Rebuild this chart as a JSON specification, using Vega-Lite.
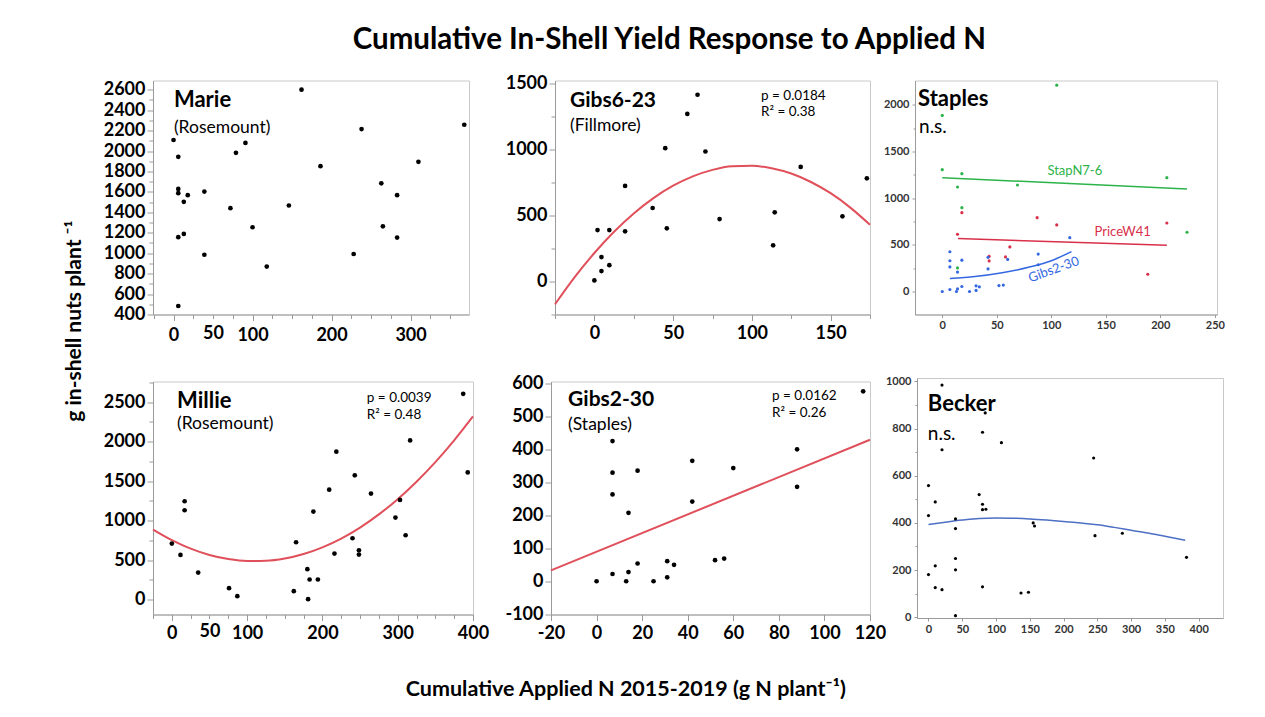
{
  "$schema": "https://vega.github.io/schema/vega-lite/v6.json",
  "background": "white",
  "padding": {"left": 63, "top": 24.5, "right": 5, "bottom": 5},
  "config": {
    "font": "Lato",
    "numberFormat": "d",
    "view": {"stroke": "#c9c9c9", "strokeWidth": 1},
    "axis": {"grid": false, "labelFont": "Lato", "labelFontWeight": "bold", "labelColor": "#000", "domainColor": "#9a9a9a", "tickColor": "#9a9a9a", "labelFlush": false, "labelOverlap": false}
  },
  "datasets": {
    "marie": [
      {"n":0,"yield":2108},{"n":6,"yield":1943},{"n":6,"yield":1629},{"n":6,"yield":1587},{"n":18,"yield":1568},{"n":13,"yield":1503},{"n":39,"yield":1603},{"n":6,"yield":1157},{"n":13,"yield":1189},{"n":39,"yield":985},{"n":6,"yield":483},{"n":72,"yield":1441},{"n":79,"yield":1982},{"n":91,"yield":2079},{"n":100,"yield":1254},{"n":118,"yield":869},{"n":146,"yield":1467},{"n":162,"yield":2600},{"n":186,"yield":1852},{"n":228,"yield":992},{"n":238,"yield":2215},{"n":263,"yield":1684},{"n":265,"yield":1263},{"n":283,"yield":1568},{"n":283,"yield":1153},{"n":310,"yield":1894},{"n":368,"yield":2257}
    ],
    "gibs623": [
      {"n":0,"yield":5},{"n":2,"yield":387},{"n":4.5,"yield":182},{"n":4.5,"yield":76},{"n":9.5,"yield":121},{"n":9.5,"yield":387},{"n":19.5,"yield":721},{"n":19.5,"yield":377},{"n":37,"yield":554},{"n":45,"yield":1007},{"n":46,"yield":400},{"n":59,"yield":1267},{"n":65.5,"yield":1412},{"n":70.5,"yield":982},{"n":79.5,"yield":470},{"n":113.5,"yield":271},{"n":114.5,"yield":521},{"n":131,"yield":865},{"n":157.5,"yield":491},{"n":173,"yield":779}
    ],
    "gibs623fit": [
      {"n":-25,"yield":-176},{"n":-12.5,"yield":30},{"n":0,"yield":213},{"n":12.5,"yield":374},{"n":25,"yield":513},{"n":37.5,"yield":629},{"n":50,"yield":723},{"n":62.5,"yield":794},{"n":75,"yield":843},{"n":87.5,"yield":870},{"n":100,"yield":874},{"n":112.5,"yield":855},{"n":125,"yield":815},{"n":137.5,"yield":751},{"n":150,"yield":666},{"n":162.5,"yield":557},{"n":175,"yield":427}
    ],
    "staples": [
      {"series":"StapN7-6","n":0,"yield":1886},{"series":"StapN7-6","n":0,"yield":1305},{"series":"StapN7-6","n":18,"yield":1262},{"series":"StapN7-6","n":14,"yield":1119},{"series":"StapN7-6","n":69,"yield":1141},{"series":"StapN7-6","n":18,"yield":898},{"series":"StapN7-6","n":105,"yield":2210},{"series":"StapN7-6","n":206,"yield":1219},{"series":"StapN7-6","n":224.5,"yield":635},{"series":"StapN7-6","n":14,"yield":253},
      {"series":"PriceW41","n":18,"yield":845},{"series":"PriceW41","n":14,"yield":613},{"series":"PriceW41","n":87,"yield":791},{"series":"PriceW41","n":105,"yield":713},{"series":"PriceW41","n":206,"yield":734},{"series":"PriceW41","n":62,"yield":478},{"series":"PriceW41","n":43,"yield":378},{"series":"PriceW41","n":43,"yield":328},{"series":"PriceW41","n":58,"yield":371},{"series":"PriceW41","n":188.5,"yield":185}
    ],
    "staplesfit": [
      {"series":"StapN7-6","n":0,"yield":1219},{"series":"StapN7-6","n":224.5,"yield":1098},
      {"series":"PriceW41","n":14.4,"yield":567},{"series":"PriceW41","n":206,"yield":496},
      {"series":"Gibs2-30","n":7,"yield":139},{"series":"Gibs2-30","n":30,"yield":160},{"series":"Gibs2-30","n":55,"yield":200},{"series":"Gibs2-30","n":80,"yield":262},{"series":"Gibs2-30","n":100,"yield":330},{"series":"Gibs2-30","n":118.5,"yield":428}
    ],
    "millie": [
      {"n":0,"yield":708},{"n":11.5,"yield":565},{"n":17,"yield":1244},{"n":17,"yield":1130},{"n":35,"yield":341},{"n":76,"yield":143},{"n":87,"yield":42},{"n":162,"yield":105},{"n":165,"yield":725},{"n":180,"yield":384},{"n":181,"yield":4},{"n":183,"yield":253},{"n":194,"yield":253},{"n":188,"yield":1113},{"n":209,"yield":1391},{"n":216,"yield":582},{"n":218.5,"yield":1872},{"n":240,"yield":776},{"n":243,"yield":1573},{"n":248.5,"yield":624},{"n":248.5,"yield":569},{"n":264.5,"yield":1341},{"n":297,"yield":1037},{"n":303,"yield":1261},{"n":310.5,"yield":814},{"n":316.5,"yield":2015},{"n":387,"yield":2605},{"n":393,"yield":1610}
    ],
    "milliefit": [
      {"n":-25,"yield":885},{"n":0,"yield":751},{"n":25,"yield":644},{"n":50,"yield":564},{"n":75,"yield":512},{"n":100,"yield":487},{"n":125,"yield":490},{"n":150,"yield":519},{"n":175,"yield":576},{"n":200,"yield":661},{"n":225,"yield":772},{"n":250,"yield":911},{"n":275,"yield":1078},{"n":300,"yield":1271},{"n":325,"yield":1492},{"n":350,"yield":1740},{"n":375,"yield":2016},{"n":400,"yield":2319}
    ],
    "gibs230": [
      {"n":0,"yield":0},{"n":7,"yield":426},{"n":7,"yield":330},{"n":7,"yield":264},{"n":7,"yield":22},{"n":13,"yield":0},{"n":14,"yield":28},{"n":14,"yield":208},{"n":18,"yield":54},{"n":18,"yield":336},{"n":25,"yield":0},{"n":31,"yield":12},{"n":31,"yield":61},{"n":34,"yield":50},{"n":42,"yield":242},{"n":42,"yield":366},{"n":52,"yield":64},{"n":56,"yield":69},{"n":60,"yield":344},{"n":88,"yield":401},{"n":88,"yield":287},{"n":117,"yield":577}
    ],
    "gibs230fit": [
      {"n":-20,"yield":33},{"n":120,"yield":430}
    ],
    "becker": [
      {"n":20,"yield":984},{"n":80,"yield":784},{"n":108,"yield":740},{"n":20,"yield":710},{"n":244.5,"yield":675},{"n":0,"yield":558},{"n":10,"yield":489},{"n":0,"yield":431},{"n":75,"yield":520},{"n":80,"yield":479},{"n":80,"yield":456},{"n":85,"yield":458},{"n":40,"yield":417},{"n":40,"yield":376},{"n":155,"yield":400},{"n":157,"yield":387},{"n":246.5,"yield":346},{"n":287,"yield":356},{"n":382,"yield":254},{"n":40,"yield":249},{"n":40,"yield":201},{"n":0,"yield":181},{"n":10,"yield":218},{"n":10,"yield":126},{"n":20,"yield":117},{"n":80,"yield":129},{"n":137,"yield":103},{"n":148,"yield":106},{"n":40,"yield":7},{"n":84,"yield":866}
    ],
    "beckerfit": [
      {"n":0,"yield":393},{"n":25,"yield":403},{"n":50,"yield":412},{"n":75,"yield":419},{"n":100,"yield":421},{"n":125,"yield":420},{"n":150,"yield":417},{"n":175,"yield":412},{"n":200,"yield":406},{"n":225,"yield":400},{"n":250,"yield":392},{"n":275,"yield":381},{"n":300,"yield":369},{"n":325,"yield":357},{"n":350,"yield":343},{"n":380,"yield":326}
    ]
  },
  "title": {"text": "Cumulative In-Shell Yield Response to Applied N", "font": "Lato", "fontSize": 29.5, "fontWeight": "bold", "color": "#000", "anchor": "middle", "offset": 18, "dx": 25},
  "vconcat": [
    {
      "title": {"text": "g in-shell nuts plant ⁻¹", "orient": "left", "font": "Lato", "fontSize": 21, "fontWeight": "bold", "color": "#000", "anchor": "middle", "offset": 18, "dx": 66},
      "vconcat": [
        {
          "title": {"text": "Cumulative Applied N 2015-2019 (g N plant⁻¹)", "orient": "bottom", "font": "Lato", "fontSize": 21.5, "fontWeight": "bold", "color": "#000", "anchor": "middle", "offset": 36, "dx": -38},
          "bounds": "full",
          "spacing": 26.5,
          "vconcat": [
            {
              "bounds": "flush",
              "spacing": 0,
              "hconcat": [
                {
                  "width": 316, "height": 234,
                  "resolve": {"axis": {"x": "independent", "y": "independent"}},
                  "layer": [
                    {"data": {"name": "marie"}, "mark": {"type": "circle", "size": 22, "color": "#000", "opacity": 1},
                     "encoding": {
                       "x": {"field": "n", "type": "quantitative", "scale": {"domain": [-26, 374], "nice": false, "zero": false},
                             "axis": {"title": null, "orient": "bottom", "labelOverlap": false, "values": [-25,0,25,50,75,100,125,150,175,200,225,250,275,300,325,350], "labelExpr": "indexof([0,50,100,200,300], datum.value) >= 0 ? datum.label : ''", "tickSize": {"condition": {"test": "datum.value % 100 === 0", "value": 6}, "value": 4}, "labelFontSize": 18, "labelPadding": 6}},
                       "y": {"field": "yield", "type": "quantitative", "scale": {"domain": [400, 2690], "nice": false, "zero": false},
                             "axis": {"title": null, "orient": "left", "labelOverlap": false, "values": [400,500,600,700,800,900,1000,1100,1200,1300,1400,1500,1600,1700,1800,1900,2000,2100,2200,2300,2400,2500,2600], "labelExpr": "datum.value % 200 === 0 ? datum.label : ''", "tickSize": {"condition": {"test": "datum.value % 200 === 0", "value": 6}, "value": 4}, "labelFontSize": 18, "labelPadding": 2}}
                     }},
                    {"data": {"values": [{}]}, "mark": {"type": "text", "fontSize": 22, "fontWeight": "bold", "align": "left", "baseline": "middle", "color": "#000"},
                     "encoding": {"x": {"datum": 0.5, "type": "quantitative", "axis": null}, "y": {"datum": 2499, "type": "quantitative", "axis": null}, "text": {"value": "Marie"}}},
                    {"data": {"values": [{}]}, "mark": {"type": "text", "fontSize": 17.5, "align": "left", "baseline": "middle", "color": "#000"},
                     "encoding": {"x": {"datum": 0.5, "type": "quantitative", "axis": null}, "y": {"datum": 2225, "type": "quantitative", "axis": null}, "text": {"value": "(Rosemount)"}}}
                  ]
                },
                {"width": 86, "height": 1, "view": {"stroke": null}, "data": {"values": [{}]}, "mark": {"type": "text"}, "encoding": {"text": {"value": ""}}},
                {
                  "width": 315, "height": 234,
                  "resolve": {"axis": {"x": "independent", "y": "independent"}},
                  "layer": [
                    {"data": {"name": "gibs623fit"}, "mark": {"type": "line", "color": "#e0505b", "strokeWidth": 2, "interpolate": "monotone"},
                     "encoding": {
                       "x": {"field": "n", "type": "quantitative", "scale": {"domain": [-25, 175], "nice": false, "zero": false},
                             "axis": {"title": null, "orient": "bottom", "labelOverlap": false, "values": [-25,0,25,50,75,100,125,150,175], "labelExpr": "datum.value % 50 === 0 ? datum.label : ''", "tickSize": {"condition": {"test": "datum.value % 50 === 0", "value": 6}, "value": 4}, "labelFontSize": 18, "labelPadding": 4}},
                       "y": {"field": "yield", "type": "quantitative", "scale": {"domain": [-253, 1520], "nice": false, "zero": false},
                             "axis": {"title": null, "orient": "left", "labelOverlap": false, "values": [-250,0,250,500,750,1000,1250,1500], "labelExpr": "datum.value % 500 === 0 ? datum.label : ''", "tickSize": {"condition": {"test": "datum.value % 500 === 0", "value": 6}, "value": 4}, "labelFontSize": 18, "labelPadding": 2}}
                     }},
                    {"data": {"name": "gibs623"}, "mark": {"type": "circle", "size": 22, "color": "#000", "opacity": 1},
                     "encoding": {"x": {"field": "n", "type": "quantitative", "axis": null}, "y": {"field": "yield", "type": "quantitative", "axis": null}}},
                    {"data": {"values": [{}]}, "mark": {"type": "text", "fontSize": 21, "fontWeight": "bold", "align": "left", "baseline": "middle", "color": "#000"},
                     "encoding": {"x": {"datum": -15.5, "type": "quantitative", "axis": null}, "y": {"datum": 1361, "type": "quantitative", "axis": null}, "text": {"value": "Gibs6-23"}}},
                    {"data": {"values": [{}]}, "mark": {"type": "text", "fontSize": 17.5, "align": "left", "baseline": "middle", "color": "#000"},
                     "encoding": {"x": {"datum": -15.5, "type": "quantitative", "axis": null}, "y": {"datum": 1179, "type": "quantitative", "axis": null}, "text": {"value": "(Fillmore)"}}},
                    {"data": {"values": [{}]}, "mark": {"type": "text", "fontSize": 13.5, "align": "left", "baseline": "middle", "color": "#000"},
                     "encoding": {"x": {"datum": 105.8, "type": "quantitative", "axis": null}, "y": {"datum": 1406, "type": "quantitative", "axis": null}, "text": {"value": "p = 0.0184"}}},
                    {"data": {"values": [{}]}, "mark": {"type": "text", "fontSize": 13.5, "align": "left", "baseline": "middle", "color": "#000"},
                     "encoding": {"x": {"datum": 105.8, "type": "quantitative", "axis": null}, "y": {"datum": 1281, "type": "quantitative", "axis": null}, "text": {"value": "R² = 0.38"}}}
                  ]
                },
                {"width": 45, "height": 1, "view": {"stroke": null}, "data": {"values": [{}]}, "mark": {"type": "text"}, "encoding": {"text": {"value": ""}}},
                {
                  "width": 302, "height": 234,
                  "resolve": {"axis": {"x": "independent", "y": "independent"}},
                  "layer": [
                    {"data": {"name": "staples"}, "mark": {"type": "circle", "size": 10, "opacity": 1},
                     "encoding": {
                       "x": {"field": "n", "type": "quantitative", "scale": {"domain": [-25, 252], "nice": false, "zero": false},
                             "axis": {"title": null, "orient": "bottom", "labelOverlap": false, "values": [0,50,100,150,200,250], "tickSize": 3, "labelFontSize": 11, "labelColor": "#333", "labelPadding": 2}},
                       "y": {"field": "yield", "type": "quantitative", "scale": {"domain": [-246, 2260], "nice": false, "zero": false},
                             "axis": {"title": null, "orient": "left", "labelOverlap": false, "values": [0,250,500,750,1000,1250,1500,1750,2000], "labelExpr": "datum.value % 500 === 0 ? datum.label : ''", "tickSize": {"condition": {"test": "datum.value % 500 === 0", "value": 3}, "value": 2}, "labelFontSize": 11, "labelColor": "#333", "labelPadding": 3}},
                       "color": {"field": "series", "type": "nominal", "scale": {"domain": ["StapN7-6", "PriceW41", "Gibs2-30"], "range": ["#2db34a", "#d9304a", "#3468e0"]}, "legend": null}
                     }},
                    {"data": {"name": "gibs230"}, "mark": {"type": "circle", "size": 10, "opacity": 1, "color": "#3468e0"},
                     "encoding": {"x": {"field": "n", "type": "quantitative", "axis": null}, "y": {"field": "yield", "type": "quantitative", "axis": null}}},
                    {"data": {"name": "staplesfit"}, "mark": {"type": "line", "strokeWidth": 1.5, "interpolate": "monotone"},
                     "encoding": {"x": {"field": "n", "type": "quantitative", "axis": null}, "y": {"field": "yield", "type": "quantitative", "axis": null},
                       "color": {"field": "series", "type": "nominal", "legend": null}}},
                    {"data": {"values": [{}]}, "mark": {"type": "text", "fontSize": 22, "fontWeight": "bold", "align": "left", "baseline": "middle", "color": "#000"},
                     "encoding": {"x": {"datum": -22.2, "type": "quantitative", "axis": null}, "y": {"datum": 2057, "type": "quantitative", "axis": null}, "text": {"value": "Staples"}}},
                    {"data": {"values": [{}]}, "mark": {"type": "text", "fontSize": 19, "align": "left", "baseline": "middle", "color": "#000"},
                     "encoding": {"x": {"datum": -21.3, "type": "quantitative", "axis": null}, "y": {"datum": 1757, "type": "quantitative", "axis": null}, "text": {"value": "n.s."}}},
                    {"data": {"values": [{}]}, "mark": {"type": "text", "fontSize": 13, "align": "center", "baseline": "middle", "color": "#2db34a"},
                     "encoding": {"x": {"datum": 121.6, "type": "quantitative", "axis": null}, "y": {"datum": 1294, "type": "quantitative", "axis": null}, "text": {"value": "StapN7-6"}}},
                    {"data": {"values": [{}]}, "mark": {"type": "text", "fontSize": 13, "align": "center", "baseline": "middle", "color": "#d9304a"},
                     "encoding": {"x": {"datum": 165.5, "type": "quantitative", "axis": null}, "y": {"datum": 635, "type": "quantitative", "axis": null}, "text": {"value": "PriceW41"}}},
                    {"data": {"values": [{}]}, "mark": {"type": "text", "fontSize": 13, "align": "center", "baseline": "middle", "color": "#3468e0", "angle": -20},
                     "encoding": {"x": {"datum": 102.3, "type": "quantitative", "axis": null}, "y": {"datum": 235, "type": "quantitative", "axis": null}, "text": {"value": "Gibs2-30"}}}
                  ]
                }
              ]
            },
            {
              "bounds": "flush",
              "center": true,
              "spacing": 0,
              "hconcat": [
                {
                  "width": 320, "height": 233,
                  "resolve": {"axis": {"x": "independent", "y": "independent"}},
                  "layer": [
                    {"data": {"name": "milliefit"}, "mark": {"type": "line", "color": "#e0505b", "strokeWidth": 2, "interpolate": "monotone"},
                     "encoding": {
                       "x": {"field": "n", "type": "quantitative", "scale": {"domain": [-25, 400], "nice": false, "zero": false},
                             "axis": {"title": null, "orient": "bottom", "labelOverlap": false, "values": [-25,0,25,50,75,100,125,150,175,200,225,250,275,300,325,350,375,400], "labelExpr": "indexof([0,50,100,200,300,400], datum.value) >= 0 ? datum.label : ''", "tickSize": {"condition": {"test": "datum.value % 100 === 0", "value": 6}, "value": 4}, "labelFontSize": 18, "labelPadding": 4}},
                       "y": {"field": "yield", "type": "quantitative", "scale": {"domain": [-190, 2761], "nice": false, "zero": false},
                             "axis": {"title": null, "orient": "left", "labelOverlap": false, "values": [0,250,500,750,1000,1250,1500,1750,2000,2250,2500,2750], "labelExpr": "datum.value % 500 === 0 ? datum.label : ''", "tickSize": {"condition": {"test": "datum.value % 500 === 0", "value": 6}, "value": 4}, "labelFontSize": 18, "labelPadding": 2}}
                     }},
                    {"data": {"name": "millie"}, "mark": {"type": "circle", "size": 22, "color": "#000", "opacity": 1},
                     "encoding": {"x": {"field": "n", "type": "quantitative", "axis": null}, "y": {"field": "yield", "type": "quantitative", "axis": null}}},
                    {"data": {"values": [{}]}, "mark": {"type": "text", "fontSize": 22, "fontWeight": "bold", "align": "left", "baseline": "middle", "color": "#000"},
                     "encoding": {"x": {"datum": 6.9, "type": "quantitative", "axis": null}, "y": {"datum": 2520, "type": "quantitative", "axis": null}, "text": {"value": "Millie"}}},
                    {"data": {"values": [{}]}, "mark": {"type": "text", "fontSize": 17.5, "align": "left", "baseline": "middle", "color": "#000"},
                     "encoding": {"x": {"datum": 6.9, "type": "quantitative", "axis": null}, "y": {"datum": 2223, "type": "quantitative", "axis": null}, "text": {"value": "(Rosemount)"}}},
                    {"data": {"values": [{}]}, "mark": {"type": "text", "fontSize": 13.5, "align": "left", "baseline": "middle", "color": "#000"},
                     "encoding": {"x": {"datum": 259, "type": "quantitative", "axis": null}, "y": {"datum": 2558, "type": "quantitative", "axis": null}, "text": {"value": "p = 0.0039"}}},
                    {"data": {"values": [{}]}, "mark": {"type": "text", "fontSize": 13.5, "align": "left", "baseline": "middle", "color": "#000"},
                     "encoding": {"x": {"datum": 259, "type": "quantitative", "axis": null}, "y": {"datum": 2337, "type": "quantitative", "axis": null}, "text": {"value": "R² = 0.48"}}}
                  ]
                },
                {"width": 78, "height": 1, "view": {"stroke": null}, "data": {"values": [{}]}, "mark": {"type": "text"}, "encoding": {"text": {"value": ""}}},
                {
                  "width": 319, "height": 233,
                  "resolve": {"axis": {"x": "independent", "y": "independent"}},
                  "layer": [
                    {"data": {"name": "gibs230fit"}, "mark": {"type": "line", "color": "#e0505b", "strokeWidth": 2},
                     "encoding": {
                       "x": {"field": "n", "type": "quantitative", "scale": {"domain": [-20, 120], "nice": false, "zero": false},
                             "axis": {"title": null, "orient": "bottom", "labelOverlap": false, "values": [-20,0,20,40,60,80,100,120], "tickSize": 6, "labelFontSize": 18, "labelPadding": 4, "labelExpr": "replace(datum.label, '−', '-')"}},
                       "y": {"field": "yield", "type": "quantitative", "scale": {"domain": [-101, 607], "nice": false, "zero": false},
                             "axis": {"title": null, "orient": "left", "labelOverlap": false, "values": [-100,0,100,200,300,400,500,600], "tickSize": 6, "labelFontSize": 18, "labelPadding": 2, "labelExpr": "replace(datum.label, '−', '-')"}}
                     }},
                    {"data": {"name": "gibs230"}, "mark": {"type": "circle", "size": 22, "color": "#000", "opacity": 1},
                     "encoding": {"x": {"field": "n", "type": "quantitative", "axis": null}, "y": {"field": "yield", "type": "quantitative", "axis": null}}},
                    {"data": {"values": [{}]}, "mark": {"type": "text", "fontSize": 21, "fontWeight": "bold", "align": "left", "baseline": "middle", "color": "#000"},
                     "encoding": {"x": {"datum": -12.5, "type": "quantitative", "axis": null}, "y": {"datum": 551, "type": "quantitative", "axis": null}, "text": {"value": "Gibs2-30"}}},
                    {"data": {"values": [{}]}, "mark": {"type": "text", "fontSize": 17.5, "align": "left", "baseline": "middle", "color": "#000"},
                     "encoding": {"x": {"datum": -12.5, "type": "quantitative", "axis": null}, "y": {"datum": 474, "type": "quantitative", "axis": null}, "text": {"value": "(Staples)"}}},
                    {"data": {"values": [{}]}, "mark": {"type": "text", "fontSize": 13.5, "align": "left", "baseline": "middle", "color": "#000"},
                     "encoding": {"x": {"datum": 77, "type": "quantitative", "axis": null}, "y": {"datum": 563.5, "type": "quantitative", "axis": null}, "text": {"value": "p = 0.0162"}}},
                    {"data": {"values": [{}]}, "mark": {"type": "text", "fontSize": 13.5, "align": "left", "baseline": "middle", "color": "#000"},
                     "encoding": {"x": {"datum": 77, "type": "quantitative", "axis": null}, "y": {"datum": 510, "type": "quantitative", "axis": null}, "text": {"value": "R² = 0.26"}}}
                  ]
                },
                {"width": 47, "height": 1, "view": {"stroke": null}, "data": {"values": [{}]}, "mark": {"type": "text"}, "encoding": {"text": {"value": ""}}},
                {
                  "width": 306, "height": 240,
                  "resolve": {"axis": {"x": "independent", "y": "independent"}},
                  "layer": [
                    {"data": {"name": "beckerfit"}, "mark": {"type": "line", "color": "#4d6fc4", "strokeWidth": 1.5, "interpolate": "monotone"},
                     "encoding": {
                       "x": {"field": "n", "type": "quantitative", "scale": {"domain": [-17, 436], "nice": false, "zero": false},
                             "axis": {"title": null, "orient": "bottom", "labelOverlap": false, "values": [0,50,100,150,200,250,300,350,400], "tickSize": 3, "labelFontSize": 11, "labelColor": "#333", "labelPadding": 2}},
                       "y": {"field": "yield", "type": "quantitative", "scale": {"domain": [-3, 1014], "nice": false, "zero": false},
                             "axis": {"title": null, "orient": "left", "labelOverlap": false, "values": [0,100,200,300,400,500,600,700,800,900,1000], "labelExpr": "datum.value % 200 === 0 ? datum.label : ''", "tickSize": {"condition": {"test": "datum.value % 200 === 0", "value": 3}, "value": 2}, "labelFontSize": 11, "labelColor": "#333", "labelPadding": 3}}
                     }},
                    {"data": {"name": "becker"}, "mark": {"type": "circle", "size": 10, "color": "#000", "opacity": 1},
                     "encoding": {"x": {"field": "n", "type": "quantitative", "axis": null}, "y": {"field": "yield", "type": "quantitative", "axis": null}}},
                    {"data": {"values": [{}]}, "mark": {"type": "text", "fontSize": 22, "fontWeight": "bold", "align": "left", "baseline": "middle", "color": "#000"},
                     "encoding": {"x": {"datum": -1, "type": "quantitative", "axis": null}, "y": {"datum": 902, "type": "quantitative", "axis": null}, "text": {"value": "Becker"}}},
                    {"data": {"values": [{}]}, "mark": {"type": "text", "fontSize": 19, "align": "left", "baseline": "middle", "color": "#000"},
                     "encoding": {"x": {"datum": -1, "type": "quantitative", "axis": null}, "y": {"datum": 777, "type": "quantitative", "axis": null}, "text": {"value": "n.s."}}}
                  ]
                }
              ]
            }
          ]
        }
      ]
    }
  ]
}
